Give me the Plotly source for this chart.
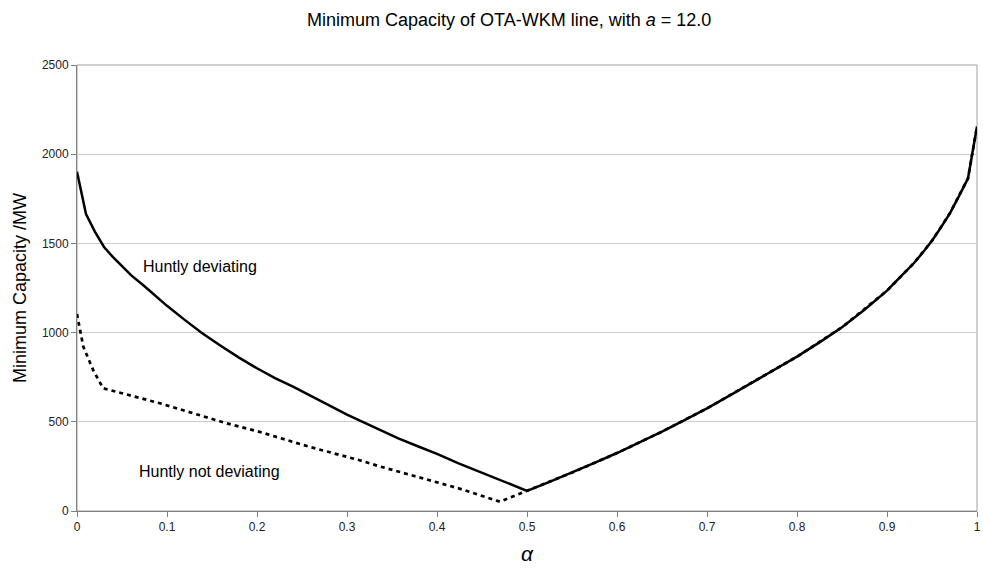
import plotly.graph_objects as go

# Huntly deviating (solid)
dev_alpha = [0.0, 0.01, 0.02, 0.03, 0.04, 0.05, 0.06, 0.075, 0.09, 0.1, 0.12, 0.138, 0.16, 0.18, 0.2,
             0.22, 0.24, 0.26, 0.28, 0.3, 0.33, 0.357, 0.38, 0.4, 0.424, 0.45, 0.475, 0.5,
             0.525, 0.55, 0.575, 0.6, 0.625, 0.65, 0.675, 0.7, 0.725, 0.75, 0.775, 0.8, 0.825, 0.85,
             0.875, 0.9, 0.91, 0.93, 0.94, 0.95, 0.96, 0.97, 0.98, 0.99, 1.0]
dev_cap = [1902, 1665, 1565, 1480, 1423, 1370, 1322, 1260, 1193, 1150, 1070, 1000, 925, 860, 800,
           745, 697, 645, 592, 540, 470, 407, 360, 320, 267, 214, 163, 113,
           163, 215, 270, 325, 385, 445, 510, 575, 647, 720, 792, 865, 945, 1030,
           1128, 1235, 1287, 1390, 1450, 1515, 1590, 1670, 1765, 1865, 2155]

# Huntly not deviating (dotted)
nodev_alpha = [0.0, 0.007, 0.018, 0.029, 0.05, 0.092, 0.166, 0.202, 0.258, 0.313, 0.335, 0.424, 0.47, 0.5,
               0.55, 0.6, 0.65, 0.7, 0.75, 0.8, 0.85, 0.9, 0.93, 0.95, 0.97, 0.99, 1.0]
nodev_cap = [1104, 921, 790, 688, 660, 604, 492, 445, 360, 286, 252, 127, 52, 113,
             215, 325, 445, 575, 720, 865, 1030, 1235, 1390, 1515, 1670, 1865, 2155]

x_ticks = [0, 0.1, 0.2, 0.3, 0.4, 0.5, 0.6, 0.7, 0.8, 0.9, 1]
x_tick_labels = ["0", "0.1", "0.2", "0.3", "0.4", "0.5", "0.6", "0.7", "0.8", "0.9", "1"]
y_ticks = [0, 500, 1000, 1500, 2000, 2500]

FONT = "Liberation Sans, Arial, sans-serif"

fig = go.Figure()
fig.add_trace(go.Scatter(x=dev_alpha, y=dev_cap, mode="lines",
                         line=dict(color="black", width=2.5), name="Huntly deviating"))
fig.add_trace(go.Scatter(x=nodev_alpha, y=nodev_cap, mode="lines",
                         line=dict(color="black", width=2.7, dash="4px,4px"), name="Huntly not deviating"))

fig.add_annotation(x=0.0715, y=1368, xref="x", yref="y", text="Huntly deviating", showarrow=False,
                   xanchor="left", yanchor="middle", font=dict(family=FONT, size=16, color="black"))
fig.add_annotation(x=0.067, y=220, xref="x", yref="y", text="Huntly not deviating", showarrow=False,
                   xanchor="left", yanchor="middle", font=dict(family=FONT, size=16, color="black"))

# light frame on top/right
fig.add_shape(type="rect", xref="paper", yref="paper", x0=0, y0=0, x1=1, y1=1,
              line=dict(color="#a0a0a0", width=1), layer="below")

fig.update_layout(
    width=983, height=576,
    margin=dict(l=77, r=2, t=65, b=65),
    paper_bgcolor="white", plot_bgcolor="white",
    showlegend=False,
    font=dict(family=FONT, color="black"),
    title=dict(text="Minimum Capacity of OTA-WKM line, with <i>a</i> = 12.0",
               x=0.518, xanchor="center", y=0.965, yanchor="middle",
               font=dict(family=FONT, size=18, color="black")),
    xaxis=dict(range=[0, 1], tickvals=x_ticks, ticktext=x_tick_labels,
               showgrid=False, zeroline=False, showline=True, linecolor="#808080", linewidth=1,
               ticks="outside", ticklen=5, tickcolor="#808080", ticklabeloverflow="allow",
               tickfont=dict(family=FONT, size=12, color="#222222"),
               title=dict(text="<i>α</i>", font=dict(family=FONT, size=21, color="black"), standoff=12)),
    yaxis=dict(range=[0, 2500], tickvals=y_ticks,
               showgrid=True, gridcolor="#cccccc", gridwidth=1, zeroline=False,
               showline=True, linecolor="#808080", linewidth=1,
               ticks="outside", ticklen=5, tickcolor="#808080",
               tickfont=dict(family=FONT, size=12, color="#222222"),
               title=dict(text="Minimum Capacity /MW", font=dict(family=FONT, size=18, color="black"),
                          standoff=10)),
)

fig.write_html("out.html", config={"displayModeBar": False},
               post_script="document.body.style.margin='0';document.body.style.overflow='hidden';")
